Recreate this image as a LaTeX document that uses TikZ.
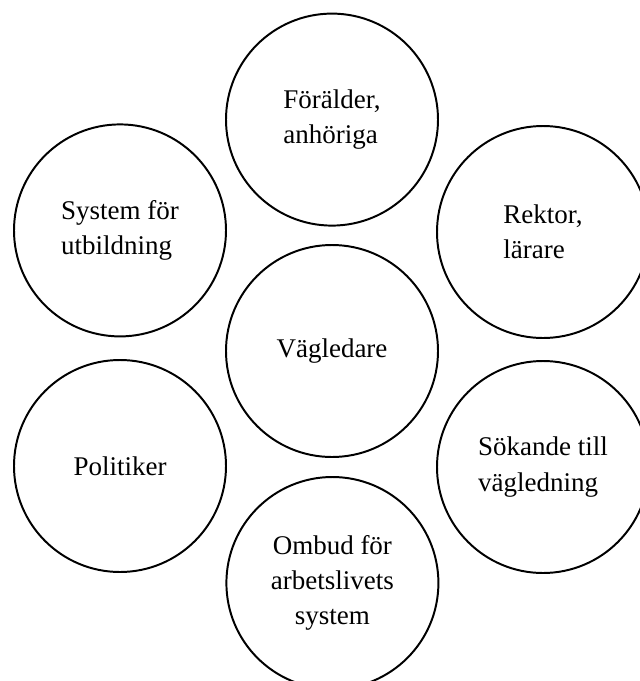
\documentclass[tikz,border=0pt]{standalone}
\usepackage{fontspec}
\setmainfont{Liberation Serif}
\usetikzlibrary{positioning}

\begin{document}
\begin{tikzpicture}[every node/.style={circle,draw,line width=1.4pt,minimum size=5.3cm,inner sep=0pt,align=left,font=\fontsize{19.2}{25}\selectfont}]
\useasboundingbox (0,0) rectangle (16,-17.025);
\clip (0,0) rectangle (16,-17.025);
\node (F) at (8.3,-2.99) {Förälder,\\anhöriga};
\node (V) at (8.3,-8.775) {Vägledare};
\node (O) at (8.31,-14.575) [align=center] {Ombud för\\arbetslivets\\system};
\node (S) at (3,-5.76) {System för\\utbildning};
\node (P) at (3,-11.65) {Politiker};
\node (R) at (13.575,-5.8) {Rektor,\\lärare};
\node (K) at (13.575,-11.675) {Sökande till\\vägledning};
\end{tikzpicture}
\end{document}
